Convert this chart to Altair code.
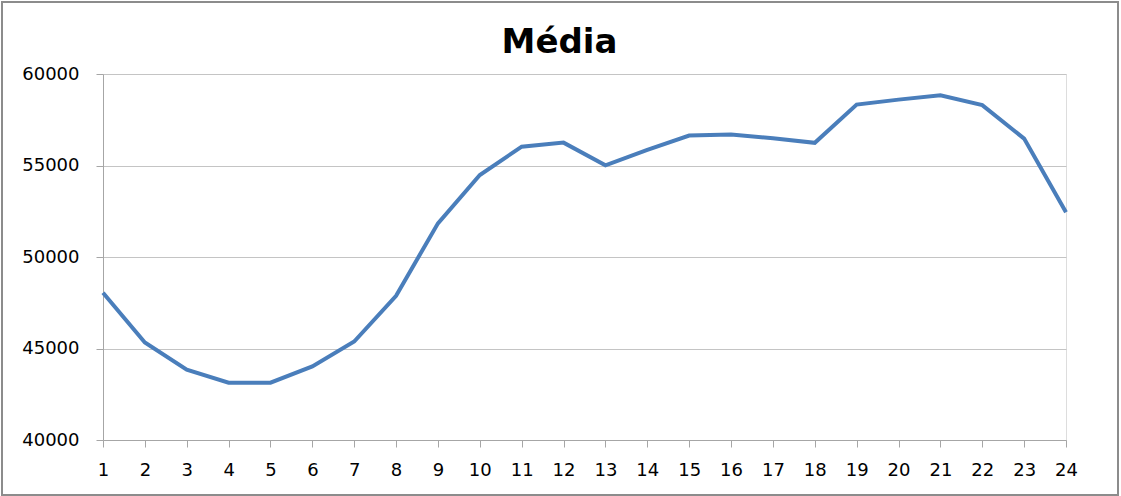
import altair as alt
import pandas as pd

# Hourly average (hours 1..24)
hours = list(range(1, 25))
media = [
    48050, 45330, 43840, 43130, 43130, 44020, 45380, 47880,
    51840, 54480, 56030, 56250, 55010, 55850, 56640, 56690,
    56490, 56240, 58330, 58600, 58840, 58300, 56470, 52450,
]
y_ticks = [40000, 45000, 50000, 55000, 60000]

df = pd.DataFrame({"hora": hours, "media": media})

FONT = "DejaVu Sans"
W, H = 963, 366
PAD = {"left": 103, "top": 74, "right": 55, "bottom": 56}

line = alt.Chart(df).mark_line(
    color="#4A7EBB", strokeWidth=4, strokeJoin="miter", strokeCap="butt"
).encode(
    x=alt.X(
        "hora:Q",
        scale=alt.Scale(domain=[1, 24], nice=False, zero=False),
        axis=alt.Axis(
            values=hours, format="d", title=None, grid=False,
            tickSize=7, labelPadding=14, domainColor="#A6A6A6",
            tickColor="#A6A6A6", labelFont=FONT, labelFontSize=18,
            labelColor="#000000", labelFlush=False,
        ),
    ),
    y=alt.Y(
        "media:Q",
        scale=alt.Scale(domain=[40000, 60000], nice=False, zero=False),
        axis=alt.Axis(
            values=y_ticks, format="d", title=None, grid=True,
            gridColor="#C4C4C4", gridWidth=1.2, tickSize=7, labelPadding=17,
            domainColor="#A6A6A6", tickColor="#A6A6A6", labelFont=FONT,
            labelFontSize=18, labelColor="#000000",
        ),
    ),
)

# outer frame around the whole figure
frame = alt.Chart(df.head(1)).mark_rect(
    fill=None, stroke="#8C8C8C", strokeWidth=2
).encode(
    x=alt.value(-101), x2=alt.value(1015),
    y=alt.value(-72), y2=alt.value(421),
)

chart = alt.layer(frame, line).properties(
    width=W, height=H,
    padding=PAD,
    autosize=alt.AutoSizeParams(type="none"),
    title=alt.TitleParams(
        "Média", font=FONT, fontSize=34, fontWeight="bold",
        color="#000000", anchor="middle", frame="group",
        baseline="alphabetic", dx=-25, dy=98, offset=12,
    ),
).configure_view(stroke=None).configure(background="white")

chart.save("out.html", embed_options={"renderer": "svg", "actions": False})
